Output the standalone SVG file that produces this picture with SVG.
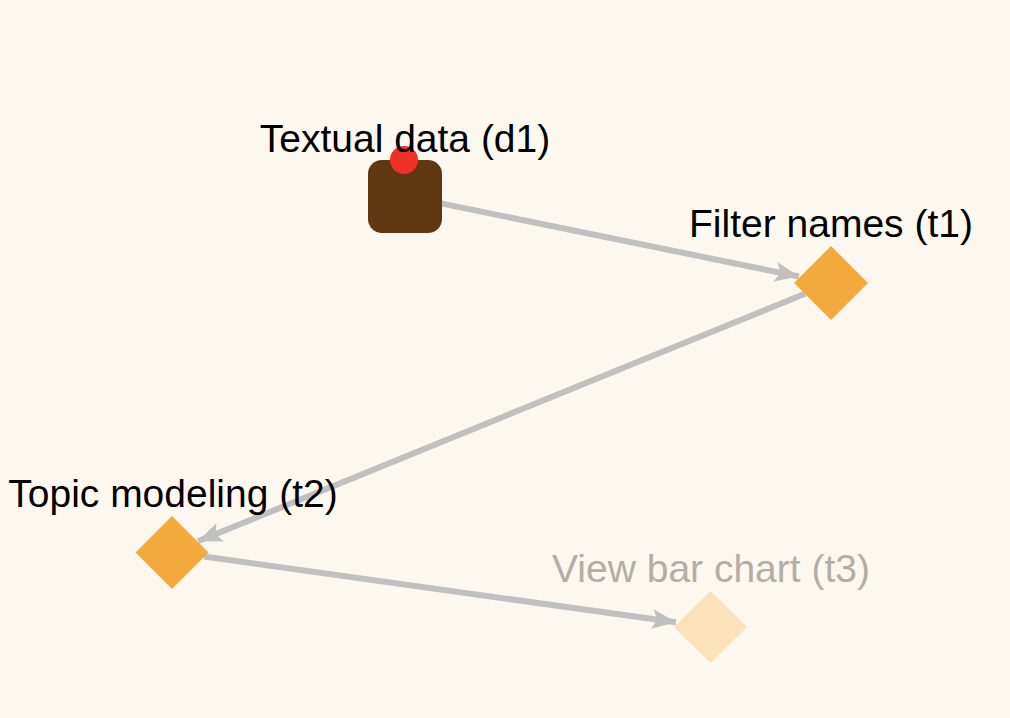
<svg xmlns="http://www.w3.org/2000/svg" width="1010" height="718" viewBox="0 0 1010 718">
<defs>
<style>
.edge{stroke:#c0c0c0;stroke-width:6;fill:none}
.lbl{font-family:"Liberation Sans",Arial,sans-serif;font-size:39px;fill:#000;text-anchor:middle}
.dim{fill:#b3aea5}
</style>
<marker id="arr" markerUnits="userSpaceOnUse" markerWidth="26" markerHeight="22" viewBox="0 0 26 22" refX="24" refY="11" orient="auto">
<path d="M0,1 L24,11 L0,21 L5,11 z" fill="#c0c0c0"/>
</marker>
</defs>
<rect width="1010" height="718" fill="#fcf8ef"/>
<g id="connectors">
<line class="edge" x1="441" y1="203.4" x2="799" y2="276.5" marker-end="url(#arr)"/>
<line class="edge" x1="805" y1="293.7" x2="198" y2="541.3" marker-end="url(#arr)"/>
<line class="edge" x1="204" y1="556.5" x2="676" y2="622.3" marker-end="url(#arr)"/>
</g>
<g id="d1">
<rect x="368" y="160" width="74" height="73" rx="14" fill="#5f3710"/>
<circle cx="404" cy="160" r="14" fill="#ee3124"/>
<text class="lbl" x="405" y="152">Textual data (d1)</text>
</g>
<g id="t1">
<polygon points="831,246 868,283 831,320 794,283" fill="#f4a93d"/>
<text class="lbl" x="831" y="237">Filter names (t1)</text>
</g>
<g id="t2">
<polygon points="172,516 208.5,552.5 172,589 135.5,552.5" fill="#f4a93d"/>
<text class="lbl" x="173" y="507">Topic modeling (t2)</text>
</g>
<g id="t3">
<polygon points="710.5,591 747,627 710.5,663 674,627" fill="#fbe2bb"/>
<text class="lbl dim" x="711" y="582">View bar chart (t3)</text>
</g>
</svg>
